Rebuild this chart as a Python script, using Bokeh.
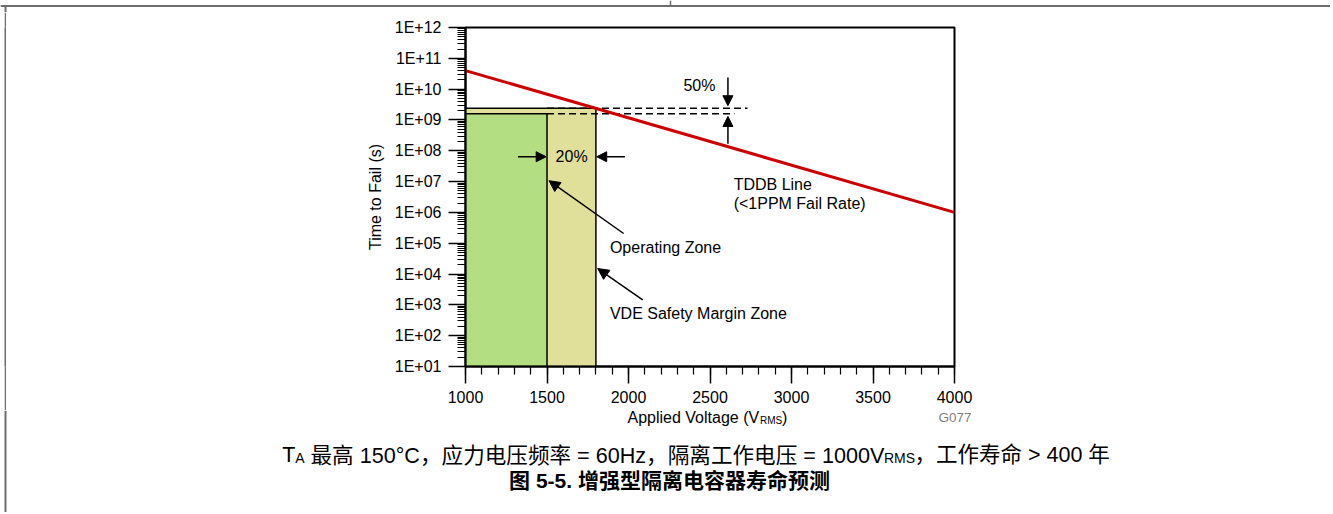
import math
from bokeh.plotting import figure
from bokeh.layouts import column, row
from bokeh.models import (Range1d, FixedTicker, CustomJSTickFormatter, Label,
                          Arrow, NormalHead, Span, Spacer, ColumnDataSource)
from bokeh.embed import file_html
from bokeh.resources import INLINE

# ---------------- data ----------------
tddb_voltage = [1000, 4000]          # V_RMS
tddb_time = [4.0e10, 1.0e6]          # seconds (<1PPM fail rate line)

zone_names = ["VDE Safety Margin Zone", "Operating Zone"]
zone_left = [1000, 1000]
zone_right = [1800, 1500]
zone_bottom = [1e1, 1e1]
zone_top = [2.4e9, 1.6e9]
zone_colors = ["#e1e09b", "#b3de81"]

margin_line_start = [1500, 1500]
margin_line_end = [2730, 2650]
margin_line_level = [2.4e9, 1.6e9]

x_ticks = [1000, 1500, 2000, 2500, 3000, 3500, 4000]
x_minor_ticks = list(range(1000, 4001, 100))
y_ticks = [10 ** k for k in range(1, 13)]
y_minor_ticks = [m * 10 ** k for k in range(1, 12) for m in range(2, 10)]

FONT = "Liberation Sans"
CJK = "'Liberation Sans', 'Noto Sans CJK SC'"
BORDER = "#6e6e6e"

W, H = 1330, 512
TOP_H = 12          # top strip (table rule)
LEFT_W = 12         # left strip (table rule)
MID_BOTTOM = 410    # page y where the chart figure ends


def blank(width, height, x0, x1, y0, y1):
    f = figure(width=width, height=height, output_backend="svg", toolbar_location=None,
               x_range=Range1d(x0, x1), y_range=Range1d(y0, y1),
               x_axis_location=None, y_axis_location=None, min_border=0)
    f.outline_line_color = None
    f.background_fill_color = "white"
    f.border_fill_color = "white"
    f.xgrid.visible = False
    f.ygrid.visible = False
    f.grid.grid_line_color = None
    return f


# ---------------- chart figure ----------------
CH_W = W - LEFT_W
CH_H = MID_BOTTOM - TOP_H
p = figure(width=CH_W, height=CH_H, output_backend="svg", toolbar_location=None,
           x_range=Range1d(1000, 4000), y_range=Range1d(1e1, 1e12),
           y_axis_type="log",
           min_border_left=465 - LEFT_W, min_border_right=CH_W - (465 - LEFT_W) - 489,
           min_border_top=27 - TOP_H, min_border_bottom=CH_H - (27 - TOP_H) - 339)
p.background_fill_color = "white"
p.border_fill_color = "white"
p.outline_line_color = "black"
p.outline_line_width = 2
p.xgrid.visible = False
p.ygrid.visible = False

for ax in (p.xaxis[0], p.yaxis[0]):
    ax.axis_line_width = 2
    ax.axis_line_color = "black"
    ax.major_tick_line_color = "black"
    ax.minor_tick_line_color = "black"
    ax.major_tick_line_width = 1.5
    ax.minor_tick_line_width = 1.2
    ax.major_tick_in = 0
    ax.minor_tick_in = 0
    ax.major_tick_out = 17
    ax.minor_tick_out = 8
    ax.major_label_text_font = FONT
    ax.major_label_text_font_size = "16px"
    ax.major_label_text_color = "black"

p.xaxis.ticker = FixedTicker(ticks=x_ticks, minor_ticks=x_minor_ticks)
p.xaxis.major_label_standoff = 7
p.yaxis.ticker = FixedTicker(ticks=y_ticks, minor_ticks=y_minor_ticks)
p.yaxis.major_label_standoff = 7
p.yaxis.formatter = CustomJSTickFormatter(code="""
const e = Math.round(Math.log10(tick));
return "1E+" + (e < 10 ? "0" + e : "" + e);
""")
p.yaxis.axis_label = "Time to Fail (s)"
p.yaxis.axis_label_text_font = FONT
p.yaxis.axis_label_text_font_size = "16px"
p.yaxis.axis_label_text_font_style = "normal"
p.yaxis.axis_label_text_color = "black"
p.yaxis.axis_label_standoff = 8

# zones
zsrc = ColumnDataSource(dict(name=zone_names, left=zone_left, right=zone_right,
                             bottom=zone_bottom, top=zone_top, color=zone_colors))
p.quad(left="left", right="right", bottom="bottom", top="top", source=zsrc,
       fill_color="color", line_color="black", line_width=1.5)

# dashed margin lines
p.segment(x0=margin_line_start, y0=margin_line_level, x1=margin_line_end,
          y1=margin_line_level, line_color="black", line_width=1.5, line_dash="7 4")

# TDDB line
p.line(tddb_voltage, tddb_time, line_color="#cc0000", line_width=3)


def arrow(x0, y0, x1, y1, size=10):
    p.add_layout(Arrow(end=NormalHead(size=size, fill_color="black", line_color="black"),
                       x_start=x0, y_start=y0, x_end=x1, y_end=y1,
                       line_color="black", line_width=1.5))


def label(x, y, text, align="left", size="16px"):
    p.add_layout(Label(x=x, y=y, text=text, text_align=align, text_baseline="middle",
                       text_font=FONT, text_font_size=size, text_color="black"))


arrow(2610, 2.4e10, 2610, 2.9e9)
arrow(2610, 1.7e8, 2610, 1.3e9)
label(2435, 1.3e10, "50%", align="center")

arrow(1322, 6.4e7, 1495, 6.4e7)
arrow(1978, 6.4e7, 1805, 6.4e7)
label(1651, 6.4e7, "20%", align="center")

arrow(1970, 2.07e5, 1512, 1.07e7, size=11)
label(1886, 7.2e4, "Operating Zone")
arrow(2087, 1.45e3, 1811, 1.51e4, size=11)
label(1886, 507, "VDE Safety Margin Zone")

label(2645, 8.3e6, "TDDB Line")
label(2645, 1.9e6, "(<1PPM Fail Rate)")

# ---------------- page decoration strips ----------------
top = blank(W, TOP_H, 0, W, TOP_H, 0)          # data coords == page coords
top.add_layout(Span(location=5.5, dimension="width", line_color=BORDER, line_width=2))
top.segment(x0=[670, 5], y0=[0, 5.5], x1=[670, 5], y1=[5.5, TOP_H],
            line_color=BORDER, line_width=[1.5, 2])

# left table rule beside the chart: a 2px figure filled with the rule colour
bar = figure(width=2, height=CH_H, output_backend="svg", toolbar_location=None,
             x_axis_location=None, y_axis_location=None, min_border=0)
bar.outline_line_color = None
bar.background_fill_color = BORDER
bar.border_fill_color = BORDER
bar.xgrid.visible = False
bar.ygrid.visible = False
bar.grid.grid_line_color = None

bot = blank(W, H - MID_BOTTOM, 0, W, H, MID_BOTTOM)   # data coords == page coords
bot.add_layout(Span(location=5, dimension="height", line_color=BORDER, line_width=2))


def blabel(x, y, text, size, align="left", font=FONT, style="normal", color="black"):
    bot.add_layout(Label(x=x, y=y, text=text, text_align=align,
                         text_baseline="alphabetic", text_font=font,
                         text_font_size=size, text_font_style=style,
                         text_color=color))


# x axis title with subscript
blabel(627, 417, "Applied Voltage (V", "16px")
blabel(759.5, 419.5, "RMS", "10px")
blabel(781.5, 417, ")", "16px")
blabel(971, 416.5, "G077", "13.5px", align="right", color="#7f7f7f")

# caption line
blabel(281.7, 454.5, "T", "21.5px", font=CJK)
blabel(294.8, 457, "A", "14px", font=CJK)
blabel(310, 454.5, "最高 150°C，应力电压频率 = 60Hz，隔离工作电压 = 1000V", "21.6px", font=CJK)
blabel(883.5, 457, "RMS", "14px", font=CJK)
blabel(914, 454.5, "，工作寿命 > 400 年", "21.5px", font=CJK)

# figure title
blabel(669, 480, "图 5-5. 增强型隔离电容器寿命预测", "21px", align="center",
       font=CJK, style="bold")

middle = row(Spacer(width=4, height=CH_H), bar, Spacer(width=LEFT_W - 6, height=CH_H), p,
             spacing=0)
layout = column(top, middle, bot, spacing=0)
open("out.html", "w").write(file_html(layout, INLINE))
